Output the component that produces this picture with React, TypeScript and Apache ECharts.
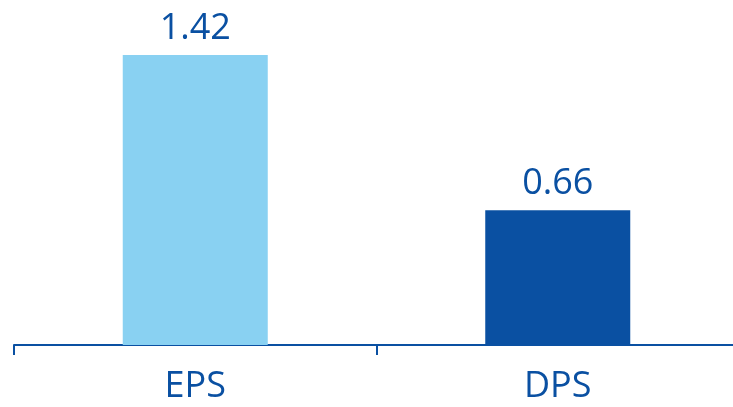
import React, { useEffect, useRef } from "react";
import * as echarts from "echarts";

const categories = ["EPS", "DPS"];
const values = [1.42, 0.66];
const barColors = ["#89d1f2", "#0a50a2"];

export default function App() {
  const ref = useRef<HTMLDivElement>(null);
  useEffect(() => {
    const chart = echarts.init(ref.current!, null, { renderer: "svg" });
    chart.setOption({
      animation: false,
      grid: { left: 14, right: -6, top: 55, bottom: 62, outerBoundsMode: "none", containLabel: false },
      xAxis: {
        type: "category",
        data: categories,
        axisLine: { lineStyle: { color: "#0a50a2", width: 2 } },
        axisTick: { show: true, length: 10, lineStyle: { color: "#0a50a2", width: 2 } },
        axisLabel: {
          color: "#0a50a2",
          fontSize: 36,
          fontFamily: "Open Sans",
          margin: 20,
        },
      },
      yAxis: {
        type: "value",
        min: 0,
        max: 1.42,
        show: false,
        splitLine: { show: false },
      },
      series: [
        {
          type: "bar",
          barWidth: 145,
          data: values.map((v, i) => ({ value: v, itemStyle: { color: barColors[i] } })),
          label: {
            show: true,
            position: "top",
            distance: 12,
            color: "#0a50a2",
            fontSize: 36,
            lineHeight: 36,
            fontFamily: "Open Sans",
            formatter: (p: any) => p.value.toFixed(2),
          },
        },
      ],
    });
    return () => chart.dispose();
  }, []);
  return <div ref={ref} style={{ width: 733, height: 407, position: "fixed", left: 0, top: 0 }} />;
}
